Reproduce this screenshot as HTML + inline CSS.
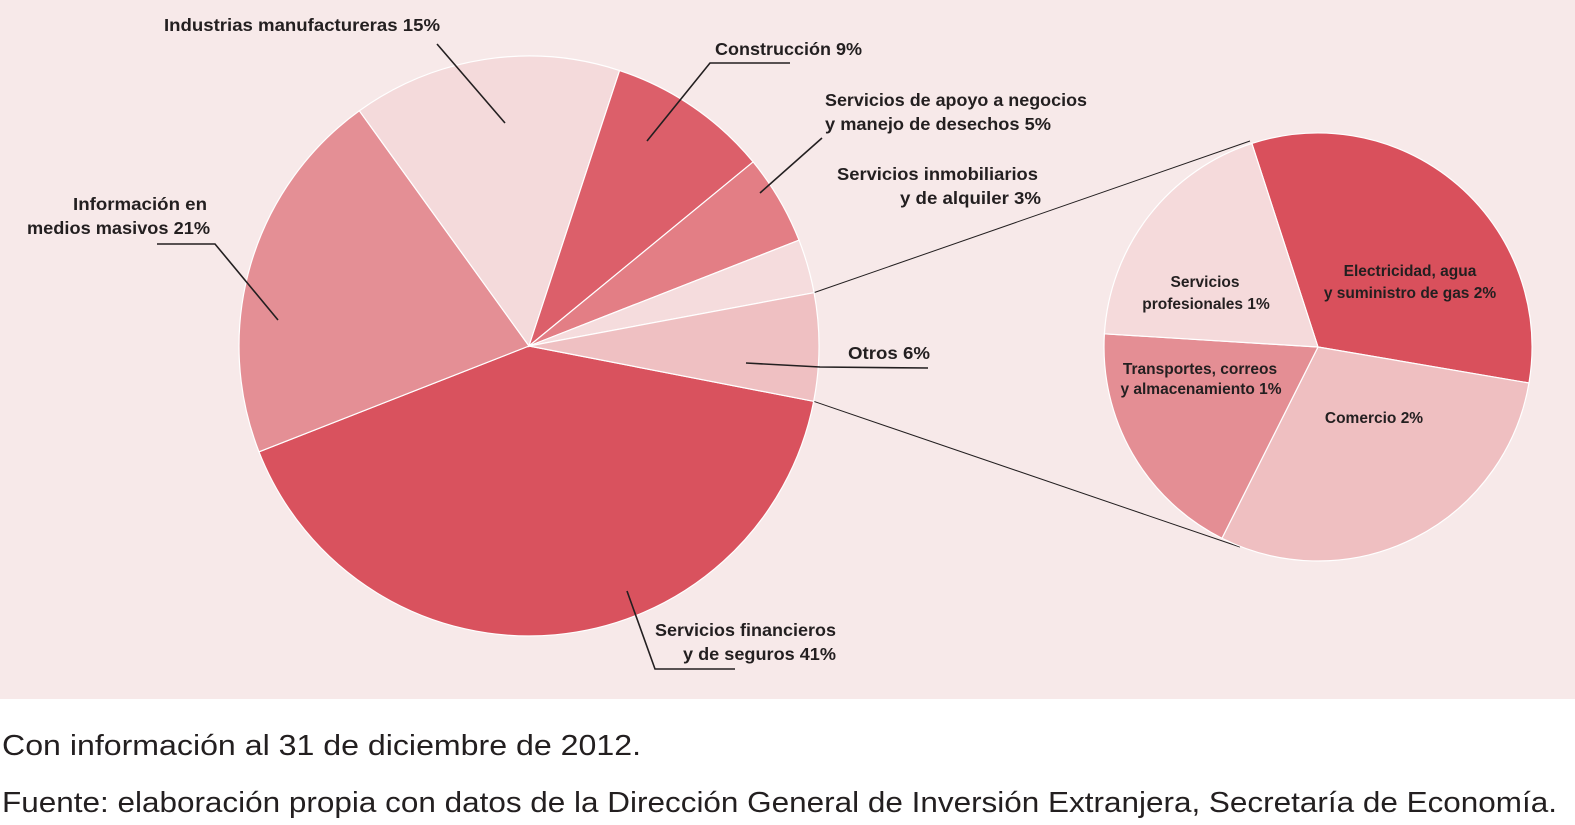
<!DOCTYPE html>
<html><head><meta charset="utf-8"><style>
html,body{margin:0;padding:0;background:#fff;}
svg{display:block;}
.lbl{font-family:"Liberation Sans",sans-serif;font-weight:bold;font-size:17.5px;fill:#231f20;}
.sm{font-family:"Liberation Sans",sans-serif;font-weight:bold;font-size:15.5px;fill:#231f20;}
.ft{font-family:"Liberation Sans",sans-serif;font-size:29px;fill:#231f20;}
</style></head><body>
<svg id="chart" width="1575" height="825" viewBox="0 0 1575 825">
<rect x="0" y="0" width="1575" height="699" fill="#f7e9e9"/>
<g id="conn"></g>
<g id="main"></g>
<g id="sub"></g>
<g fill="none" stroke="#231f20" stroke-width="1.6">
<polyline points="437,44 505,123"/>
<polyline points="790,63 710,63 647,141"/>
<polyline points="822,138 760,193"/>
<polyline points="928,368 820,367 746,363"/>
<polyline points="735,669 655,669 627,591"/>
<polyline points="157,244 215,244 278,320"/>
</g>
<g>
<text class="lbl" x="164" y="31" textLength="276" lengthAdjust="spacingAndGlyphs">Industrias manufactureras 15%</text>
<text class="lbl" x="715" y="55" textLength="147" lengthAdjust="spacingAndGlyphs">Construcción 9%</text>
<text class="lbl" x="825" y="106" textLength="262" lengthAdjust="spacingAndGlyphs">Servicios de apoyo a negocios</text>
<text class="lbl" x="825" y="130" textLength="226" lengthAdjust="spacingAndGlyphs">y manejo de desechos 5%</text>
<text class="lbl" x="837" y="180" textLength="201" lengthAdjust="spacingAndGlyphs">Servicios inmobiliarios</text>
<text class="lbl" x="900" y="204" textLength="141" lengthAdjust="spacingAndGlyphs">y de alquiler 3%</text>
<text class="lbl" x="848" y="359" textLength="82" lengthAdjust="spacingAndGlyphs">Otros 6%</text>
<text class="lbl" x="655" y="636" textLength="181" lengthAdjust="spacingAndGlyphs">Servicios financieros</text>
<text class="lbl" x="683" y="660" textLength="153" lengthAdjust="spacingAndGlyphs">y de seguros 41%</text>
<text class="lbl" x="73" y="210" textLength="134" lengthAdjust="spacingAndGlyphs">Información en</text>
<text class="lbl" x="27" y="234" textLength="183" lengthAdjust="spacingAndGlyphs">medios masivos 21%</text>
</g>
<g text-anchor="middle">
<text class="sm" x="1205" y="287">Servicios</text>
<text class="sm" x="1206" y="309">profesionales 1%</text>
<text class="sm" x="1410" y="276">Electricidad, agua</text>
<text class="sm" x="1410" y="298">y suministro de gas 2%</text>
<text class="sm" x="1200" y="374" font-size="14">Transportes, correos</text>
<text class="sm" x="1201" y="394" font-size="14">y almacenamiento 1%</text>
<text class="sm" x="1374" y="423">Comercio 2%</text>
</g>
<text class="ft" x="2" y="755" textLength="639" lengthAdjust="spacingAndGlyphs">Con información al 31 de diciembre de 2012.</text>
<text class="ft" x="2" y="812" textLength="1555" lengthAdjust="spacingAndGlyphs">Fuente: elaboración propia con datos de la Dirección General de Inversión Extranjera, Secretaría de Economía.</text>
</svg>
<script>
const mainCategories = ["Servicios financieros y de seguros","Información en medios masivos","Industrias manufactureras","Construcción","Servicios de apoyo a negocios","Servicios inmobiliarios","Otros"];
const mainValues = [41, 21, 15, 9, 5, 3, 6];
const mainColors = ["#d9525e","#e48f95","#f4dadb","#dc5f6a","#e37e85","#f5dcdd","#efc0c2"];
const subCategories = ["Electricidad, agua y suministro de gas","Comercio","Transportes, correos y almacenamiento","Servicios profesionales"];
const subValues = [2.2, 2.0, 1.25, 1.28];
const subColors = ["#d9505c","#efbfc1","#e48e94","#f5dadb"];
const NS = "http://www.w3.org/2000/svg";
function pt(cx, cy, r, deg){ const a = deg*Math.PI/180; return [cx + r*Math.sin(a), cy - r*Math.cos(a)]; }
function drawPie(g, cats, vals, cols, cx, cy, r, start){
  const tot = vals.reduce((a,b)=>a+b,0);
  let a0 = start; const bounds = [];
  vals.forEach((v,i)=>{
    const a1 = a0 + v/tot*360;
    const p0 = pt(cx,cy,r,a0), p1 = pt(cx,cy,r,a1);
    const large = (a1-a0) > 180 ? 1 : 0;
    const path = document.createElementNS(NS,"path");
    path.setAttribute("d",`M${cx},${cy} L${p0[0]},${p0[1]} A${r},${r} 0 ${large} 1 ${p1[0]},${p1[1]} Z`);
    path.setAttribute("fill",cols[i]);
    path.setAttribute("stroke","#ffffff");
    path.setAttribute("stroke-width","1.2");
    
    
    g.appendChild(path);
    bounds.push([a0,a1]);
    a0 = a1;
  });
  return bounds;
}
const mb = drawPie(document.getElementById("main"), mainCategories, mainValues, mainColors, 529, 346, 290, 101);
drawPie(document.getElementById("sub"), subCategories, subValues, subColors, 1318, 347, 214, 342);
const ob = mb[6];
const c = document.getElementById("conn");
[[ob[0], 1250, 141], [ob[1], 1240, 547]].forEach(([ang, x2, y2])=>{
  const p = pt(529,346,290,ang);
  const l = document.createElementNS(NS,"line");
  l.setAttribute("x1",p[0]); l.setAttribute("y1",p[1]);
  l.setAttribute("x2",x2); l.setAttribute("y2",y2);
  l.setAttribute("stroke","#231f20"); l.setAttribute("stroke-width","1");
  
  
  c.appendChild(l);
});
</script>
</body></html>
